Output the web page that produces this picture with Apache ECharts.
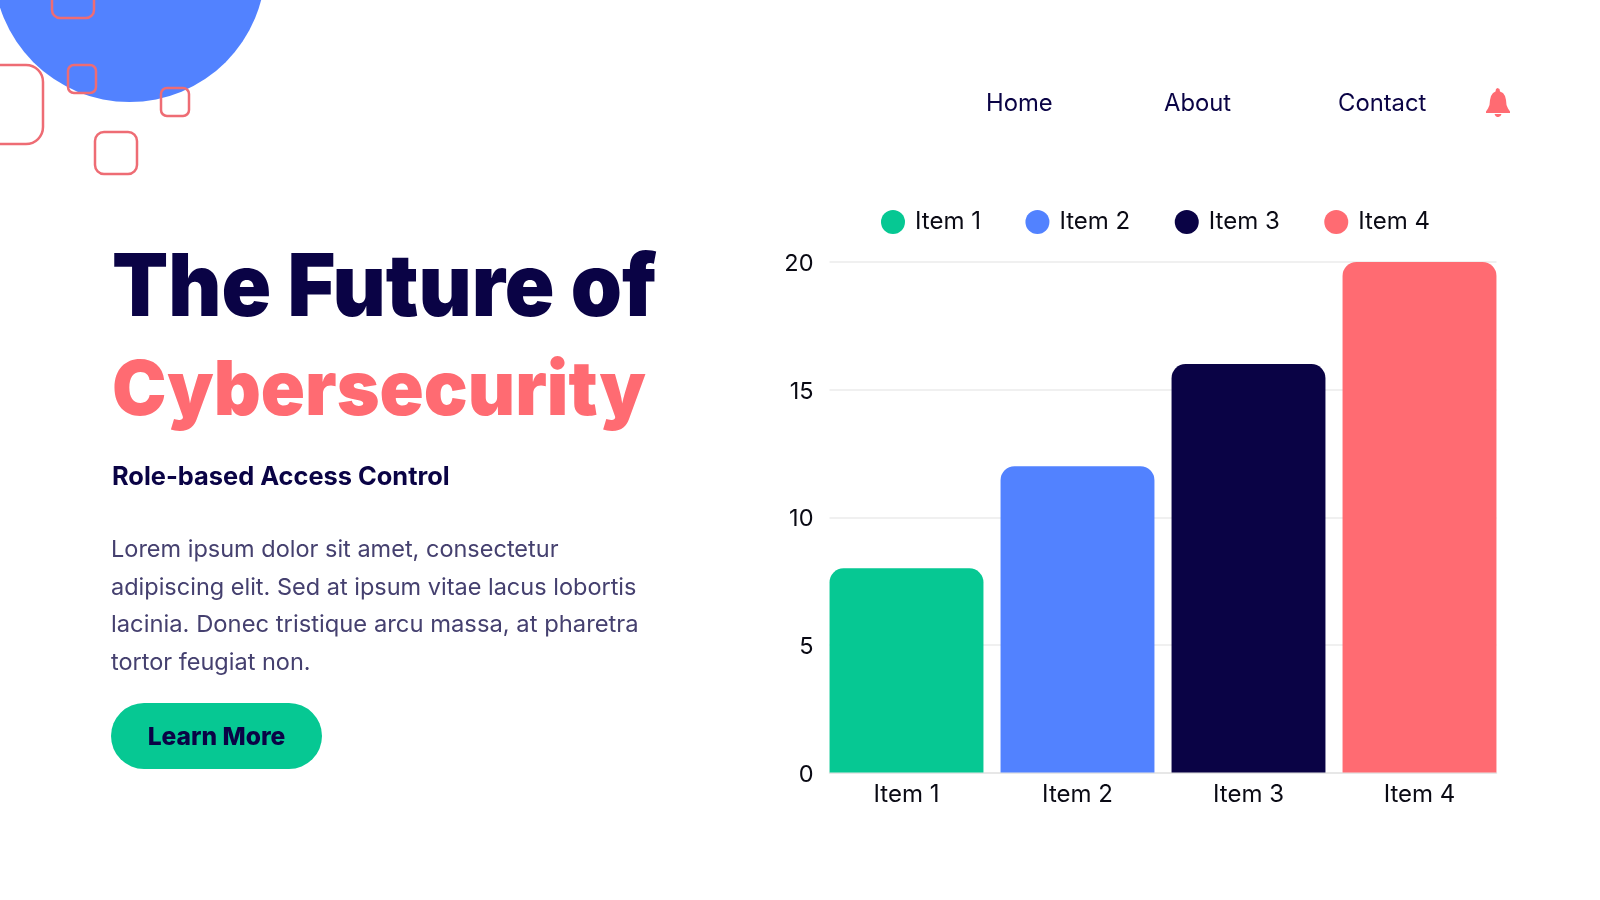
<!DOCTYPE html>
<html><head><meta charset="utf-8">
<style>html,body{margin:0;padding:0;background:#fff}#c{width:1600px;height:900px}</style>
<script src="https://cdn.jsdelivr.net/npm/echarts@6/dist/echarts.min.js"></script>
</head><body><div id="c"></div>
<script>
const categories = ['Item 1','Item 2','Item 3','Item 4'];
const values = [8,12,16,20];
const colors = ['#06C893','#5282FF','#0A0345','#FF6B72'];
const yTicks = [0,5,10,15,20];
const navLabels = ['Home','About','Contact'];
const titleLine1 = 'The Future of';
const titleLine2 = 'Cybersecurity';
const subtitle = 'Role-based Access Control';
const bodyLines = ['Lorem ipsum dolor sit amet, consectetur','adipiscing elit. Sed at ipsum vitae lacus lobortis','lacinia. Donec tristique arcu massa, at pharetra','tortor feugiat non.'];
const bodyScale = [1,1,1.012,1];
const buttonLabel = 'Learn More';
const FONT = 'Inter';
const NAVY = '#0A0345', CORAL = '#FF6B72';

function txt(x,y,text,size,weight,fill,align,scaleX){
  return {type:'text',x,y,z:10,scaleX:scaleX||1,style:{text,fontFamily:FONT,fontSize:size,fontWeight:weight,fill,align:align||'left',verticalAlign:'middle'}};
}
function sq(x,y,w,r,lw){
  return {type:'rect',z:5,shape:{x,y,width:w,height:w,r},style:{fill:'none',stroke:'#EE6C74',lineWidth:lw}};
}
const bellOutline = [[11.5,0],[13.5,1],[14,3.5],[17,5],[19,8],[20,12],[20.5,17],[22,20.5],[24,23.5],[24,25],[0,25],[0,23.5],[2,20.5],[3.5,17],[4,12],[5,8],[7,5],[9.5,3.5],[10,1]];
const bellClapper = [[8.5,26],[15.5,26],[14.5,28],[12.5,29],[11,29],[9.5,28]];
const graphic = [
  {type:'circle',z:1,shape:{cx:129.5,cy:-34,r:136},style:{fill:'#5282FF'}},
  sq(52,-24,42,8,2.5), sq(68,65,28,6,2.5), sq(161,88,28,6,2.5), sq(95,132,42,9,2.5), sq(-36,65,79,17,2.5),
  txt(112,290,titleLine1,87,900,NAVY,'left',0.942),
  txt(112,392,titleLine2,76,900,CORAL,'left',0.96),
  txt(112,477,subtitle,25.4,700,NAVY),
  ...bodyLines.map((l,i)=>txt(111,550+i*37.5,l,23.5,400,'#45406F','left',bodyScale[i])),
  {type:'rect',z:5,shape:{x:111,y:703,width:211,height:66,r:33},style:{fill:'#06C893'}},
  txt(216.5,738,buttonLabel,24.6,800,NAVY,'center'),
  txt(986,104,navLabels[0],23.8,400,NAVY),
  txt(1164,104,navLabels[1],23.8,400,NAVY),
  txt(1338,104,navLabels[2],23.8,400,NAVY),
  {type:'polygon',z:10,x:1486,y:88,shape:{points:bellOutline},style:{fill:CORAL}},
  {type:'polygon',z:10,x:1486,y:88,shape:{points:bellClapper},style:{fill:CORAL}}
];
const chart = echarts.init(document.getElementById('c'));
chart.setOption({
  animation:false,
  color:colors,
  legend:{show:true,top:205,left:876,itemWidth:24,itemHeight:24,itemGap:44.5,icon:'circle',
    data:categories,textStyle:{fontFamily:FONT,fontSize:24,color:'#0a0a14',padding:[0,0,0,5]}},
  grid:[
    {left:829.5,right:103.5,top:262,bottom:127.5},
    {left:821,right:95,top:262,bottom:127.5},
    {left:829.5,right:103.5,top:264,bottom:125.5}
  ],
  xAxis:[
    {gridIndex:0,type:'category',data:categories,axisLabel:{show:false},axisTick:{show:false},axisLine:{show:true,lineStyle:{color:'#E4E4E4',width:1.5}}},
    {gridIndex:1,type:'category',data:categories,axisTick:{show:false},axisLine:{show:false},
      axisLabel:{fontFamily:FONT,fontSize:24,color:'#0a0a14',margin:10}},
    {gridIndex:2,type:'category',data:categories,show:false}
  ],
  yAxis:[
    {gridIndex:0,type:'value',min:yTicks[0],max:yTicks[4],interval:yTicks[1],axisLine:{show:false},axisTick:{show:false},axisLabel:{show:false},
      splitLine:{lineStyle:{color:'#EBEBEB',width:1.5}}},
    {gridIndex:1,type:'value',min:yTicks[0],max:yTicks[4],interval:yTicks[1],axisLine:{show:false},axisTick:{show:false},axisLabel:{show:false},splitLine:{show:false}},
    {gridIndex:2,type:'value',min:yTicks[0],max:yTicks[4],interval:yTicks[1],axisLine:{show:false},axisTick:{show:false},splitLine:{show:false},
      axisLabel:{fontFamily:FONT,fontSize:23.5,color:'#0a0a14',margin:16}}
  ],
  series:categories.map((name,i)=>({
    name,type:'bar',xAxisIndex:1,yAxisIndex:1,stack:'all',barWidth:'90%',
    itemStyle:{color:colors[i],borderRadius:[14,14,0,0]},
    data:categories.map((_,j)=>j===i?values[i]:null)
  })),
  graphic
});
</script></body></html>
